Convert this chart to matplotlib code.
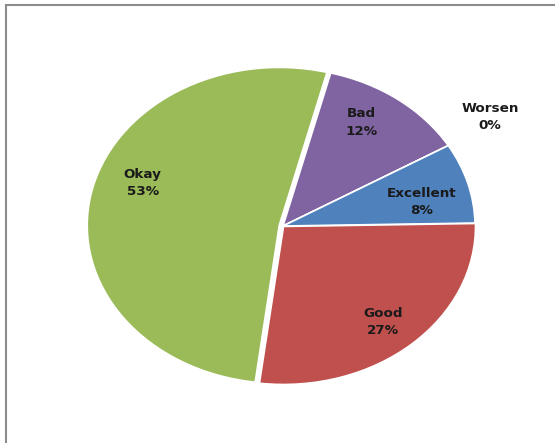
import numpy as np
import matplotlib.pyplot as plt
from matplotlib.patches import Rectangle

labels = ['Bad', 'Worsen', 'Excellent', 'Good', 'Okay']
values = [12.5, 0, 8.2, 27.3, 52.0]
pct_text = [12, 0, 8, 27, 53]
colors = ['#8064A2', '#4BACC6', '#4F81BD', '#C0504D', '#9BBB59']
explode = [0, 0, 0, 0.004, 0.02]

W, H = 555, 443
fig = plt.figure(figsize=(W / 100, H / 100), dpi=100)

# grey frame (cut off at right and bottom like the screenshot)
fig.patches.append(Rectangle((5.5 / W, -0.1), 1.2, 1 - 5 / H + 0.1, transform=fig.transFigure,
                             fill=False, edgecolor='#8c8c8c', linewidth=1.5))

cx, cy, rx, ry = 283, 226, 192, 158
ax = fig.add_axes([(cx - rx) / W, (H - cy - ry) / H, 2 * rx / W, 2 * ry / H])

wedges, _ = ax.pie(values, colors=colors, startangle=75.6, counterclock=False,
                   explode=explode, wedgeprops=dict(edgecolor='white', linewidth=1.2))
ax.set_aspect('auto')
ax.set_xlim(-1, 1)
ax.set_ylim(-1, 1)
ax.axis('off')

dist = {'Bad': 0.77, 'Worsen': 1.28, 'Excellent': 0.74, 'Good': 0.80, 'Okay': 0.78}
shift = {'Bad': 5, 'Worsen': 2, 'Excellent': -4, 'Good': -1.4, 'Okay': -9.7}
for w, lab, p in zip(wedges, labels, pct_text):
    ang = np.deg2rad((w.theta1 + w.theta2) / 2 + shift[lab])
    d = dist[lab]
    ax.text(d * np.cos(ang), d * np.sin(ang), f'{lab}\n{p}%', ha='center', va='center',
            fontsize=9.7, fontweight='bold', family='DejaVu Sans',
            color='#1a1a1a', linespacing=1.45)

plt.savefig('out.png', dpi=100)
